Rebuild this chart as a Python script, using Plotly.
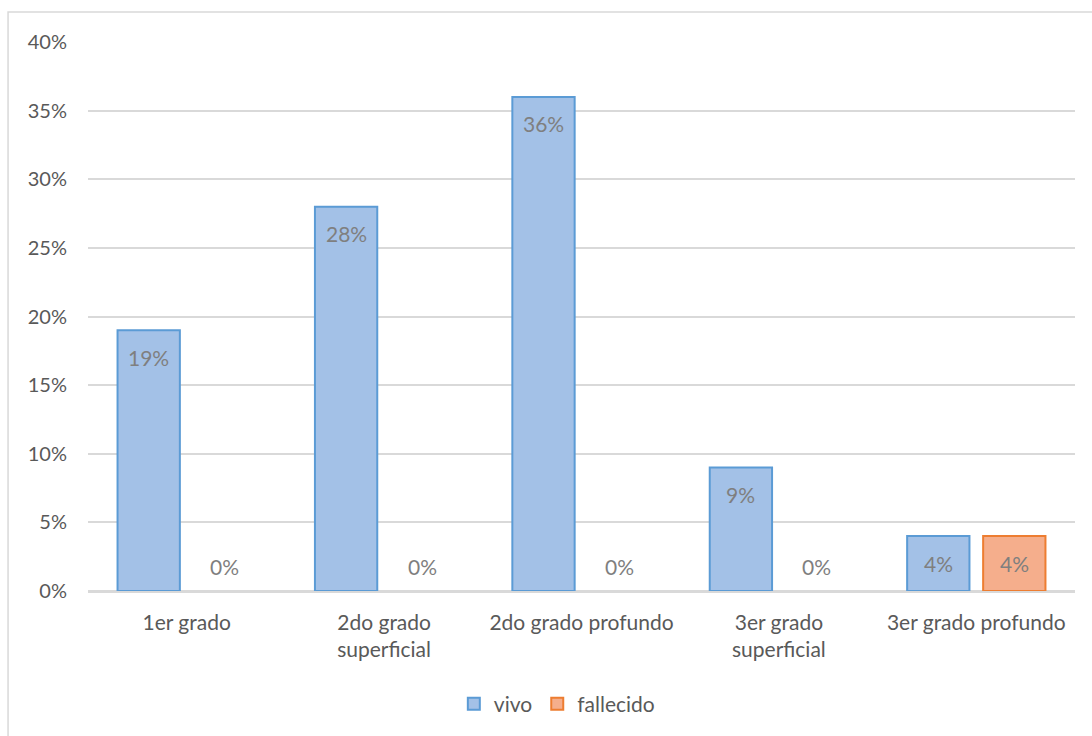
import plotly.graph_objects as go

categories = ["1er grado", "2do grado<br>superficial", "2do grado profundo", "3er grado<br>superficial", "3er grado profundo"]
vivo = [19, 28, 36, 9, 4]
fallecido = [0, 0, 0, 0, 4]
series_names = ["vivo", "fallecido"]

FONT = "Lato, 'Open Sans', sans-serif"
GRAY = "#595959"
LABEL = "#7F7F7F"
FS = 21

BARGAP = 0.23
BARGROUPGAP = 0.18
slot = (1 - BARGAP) / 2

def visible(vals):
    # zero-height bars are not drawn (only their label is shown)
    return [v if v > 0 else None for v in vals]

fig = go.Figure()
fig.add_bar(x=categories, y=visible(vivo), name=series_names[0],
            marker=dict(color="#A3C1E7", line=dict(color="#5B9BD5", width=2)))
fig.add_bar(x=categories, y=visible(fallecido), name=series_names[1],
            marker=dict(color="#F5AE8C", line=dict(color="#ED7D31", width=2)))

annotations = []
for si, vals in enumerate([vivo, fallecido]):
    off = (-0.5 + si) * slot
    for i, v in enumerate(vals):
        annotations.append(dict(
            x=i + off, y=v, xref="x", yref="y", text=f"{v}%", showarrow=False,
            yanchor="middle", yshift=(-27 if v > 0 else 25),
            font=dict(family=FONT, size=FS, color=LABEL)))

fig.update_layout(
    width=1092, height=736,
    margin=dict(l=88, r=17, t=42, b=145),
    paper_bgcolor="white", plot_bgcolor="white",
    barmode="group", bargap=BARGAP, bargroupgap=BARGROUPGAP,
    font=dict(family=FONT, size=FS, color=GRAY),
    showlegend=True,
    legend=dict(orientation="h", x=0.475, xanchor="center", y=-0.206, yanchor="middle",
                font=dict(family=FONT, size=FS, color=GRAY), itemwidth=30,
                traceorder="normal"),
    annotations=annotations,
    shapes=[dict(type="rect", xref="paper", yref="paper",
                 x0=-0.081, x1=1.2, y0=-0.5, y1=1.0546,
                 line=dict(color="#D9D9D9", width=1.5), fillcolor="rgba(0,0,0,0)",
                 layer="below")],
    hovermode=False,
)
fig.update_yaxes(range=[0, 40], dtick=5, ticksuffix="%", showgrid=True,
                 gridcolor="#D9D9D9", gridwidth=1.5, zeroline=True,
                 zerolinecolor="#D9D9D9", zerolinewidth=1.5,
                 tickfont=dict(family=FONT, size=FS - 1, color=GRAY),
                 ticks="", ticklabelstandoff=20, fixedrange=True)
fig.update_xaxes(showline=True, linecolor="#D9D9D9", linewidth=1.5,
                 tickfont=dict(family=FONT, size=FS, color=GRAY),
                 ticks="", ticklabelstandoff=12, fixedrange=True)

fig.write_html("out.html")
